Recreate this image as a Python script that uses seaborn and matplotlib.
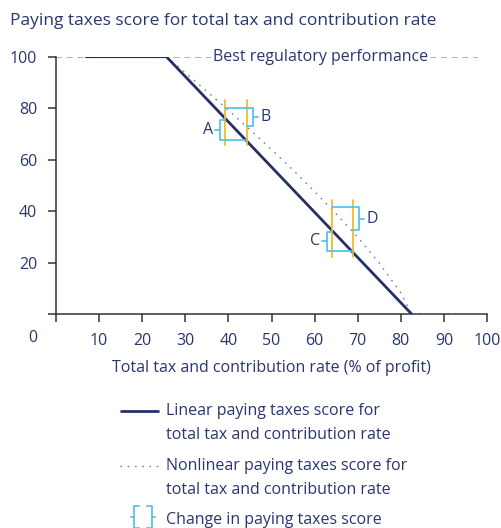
import matplotlib
matplotlib.use("Agg")
import matplotlib.pyplot as plt
from matplotlib.lines import Line2D
import seaborn as sns

sns.set_style("ticks")
plt.rcParams['font.family'] = ['Open Sans', 'DejaVu Sans']

NAVY = '#243066'
TEXT = '#2a3670'
DOTS = '#6f7fa6'
REF = '#8d9dc9'
ORANGE = '#f6b92b'
CYAN = '#58c4e6'

# linear score line
linear_x = [7, 25.6, 82.5]
linear_y = [100, 100, 0]

# nonlinear score line
nonlinear_x = [25.6, 30, 35, 40, 45, 50, 55, 60, 65, 70, 75, 80, 82.5, 100]
nonlinear_y = [100, 93.8, 86.5, 79.2, 71.6, 63.9, 55.9, 47.6, 38.9, 29.8, 19.8, 8.2, 0, 0]

# tax rates compared (orange markers) and the score changes
pair_x1 = [39.2, 64.0]
pair_x2 = [44.2, 68.8]
orange_lo = [65.5, 22.0]
orange_hi = [83.0, 44.5]
lin_top = [75.5, 32.0]      # brackets A, C
lin_bot = [67.5, 24.5]
non_top = [80.0, 41.5]      # brackets B, D
non_bot = [73.0, 32.5]
lin_labels = ['A', 'C']
non_labels = ['B', 'D']

best_score = 100
best_label = 'Best regulatory performance'

x_ticks = [0, 10, 20, 30, 40, 50, 60, 70, 80, 90, 100]
y_ticks = [0, 20, 40, 60, 80, 100]

fig = plt.figure(figsize=(5.02, 5.28), dpi=100)
ax = fig.add_axes([0.1116, 0.4053, 0.8586, 0.4873])

# best regulatory performance reference
ax.plot([0, 98], [best_score, best_score], color=REF, lw=1.1, ls=(0, (4, 3)), zorder=1)
ax.text(61.3, best_score, best_label, ha='center', va='center', fontsize=11.5, color=TEXT,
        bbox=dict(facecolor='white', edgecolor='none', pad=1.5), zorder=2)

sns.lineplot(x=nonlinear_x, y=nonlinear_y, ax=ax, color=DOTS, lw=1.0,
             linestyle=(0, (1.2, 4)), sort=False, estimator=None, zorder=3)
sns.lineplot(x=linear_x, y=linear_y, ax=ax, color=NAVY, lw=2.0, sort=False,
             estimator=None, zorder=4)

for i in range(len(pair_x1)):
    a, b = pair_x1[i], pair_x2[i]
    for xx in (a, b):
        ax.plot([xx, xx], [orange_lo[i], orange_hi[i]], color=ORANGE, lw=1.3, zorder=5)
    # linear change bracket (left)
    bx = a - 1.2
    ax.plot([a, bx, bx, b], [lin_top[i], lin_top[i], lin_bot[i], lin_bot[i]],
            color=CYAN, lw=1.3, zorder=6)
    mid = (lin_top[i] + lin_bot[i]) / 2
    ax.plot([bx, bx - 1.1], [mid, mid], color=CYAN, lw=1.3, zorder=6)
    ax.text(bx - 1.6, mid, lin_labels[i], ha='right', va='center', fontsize=11.5, color=TEXT)
    # nonlinear change bracket (right)
    bx = b + 1.6
    ax.plot([a, bx, bx, b], [non_top[i], non_top[i], non_bot[i], non_bot[i]],
            color=CYAN, lw=1.3, zorder=6)
    mid = (non_top[i] + non_bot[i]) / 2
    ax.plot([bx, bx + 1.1], [mid, mid], color=CYAN, lw=1.3, zorder=6)
    ax.text(bx + 1.7, mid, non_labels[i], ha='left', va='center', fontsize=11.5, color=TEXT)

ax.set_xlim(0, 100)
ax.set_ylim(0, 100)
ax.set_xticks(x_ticks)
ax.set_xticklabels([''] + [str(t) for t in x_ticks[1:]])
ax.set_yticks(y_ticks)
ax.set_yticklabels([''] + [str(t) for t in y_ticks[1:]])
ax.text(-5.3, -9.5, '0', ha='center', va='center', fontsize=11.5, color=TEXT, clip_on=False)
ax.tick_params(axis='both', labelsize=11.5, labelcolor=TEXT, color='#333333',
               length=5.5, width=1.1, pad=8)
for side in ('top', 'right'):
    ax.spines[side].set_visible(False)
for side in ('left', 'bottom'):
    ax.spines[side].set_color('#333333')
    ax.spines[side].set_linewidth(1.1)
ax.set_xlabel('Total tax and contribution rate (% of profit)', fontsize=11.5, color=TEXT, labelpad=8)
ax.set_ylabel('')

fig.text(10 / 502, 1 - 21 / 528, 'Paying taxes score for total tax and contribution rate',
         fontsize=12.5, color=TEXT, ha='left', va='center')

# legend, drawn by hand
def fy(py):
    return 1 - py / 528

fig.add_artist(Line2D([121 / 502, 158 / 502], [fy(411), fy(411)], color=NAVY, lw=2.0))
fig.add_artist(Line2D([120 / 502, 158 / 502], [fy(466), fy(466)], color=DOTS, lw=1.0,
                      linestyle=(0, (1.2, 4))))
fig.add_artist(Line2D([139 / 502, 134 / 502, 134 / 502, 139 / 502],
                      [fy(506), fy(506), fy(528), fy(528)], color=CYAN, lw=1.3))
fig.add_artist(Line2D([131 / 502, 134 / 502], [fy(517), fy(517)], color=CYAN, lw=1.3))
fig.add_artist(Line2D([147 / 502, 152 / 502, 152 / 502, 147 / 502],
                      [fy(506), fy(506), fy(528), fy(528)], color=CYAN, lw=1.3))
fig.add_artist(Line2D([152 / 502, 155 / 502], [fy(517), fy(517)], color=CYAN, lw=1.3))

legend_lines = [
    ('Linear paying taxes score for', 411),
    ('total tax and contribution rate', 435),
    ('Nonlinear paying taxes score for', 466),
    ('total tax and contribution rate', 490),
    ('Change in paying taxes score', 520),
]
for txt, py in legend_lines:
    fig.text(166 / 502, fy(py), txt, fontsize=11.5, color=TEXT, ha='left', va='center')

fig.savefig('out.png', dpi=100)
